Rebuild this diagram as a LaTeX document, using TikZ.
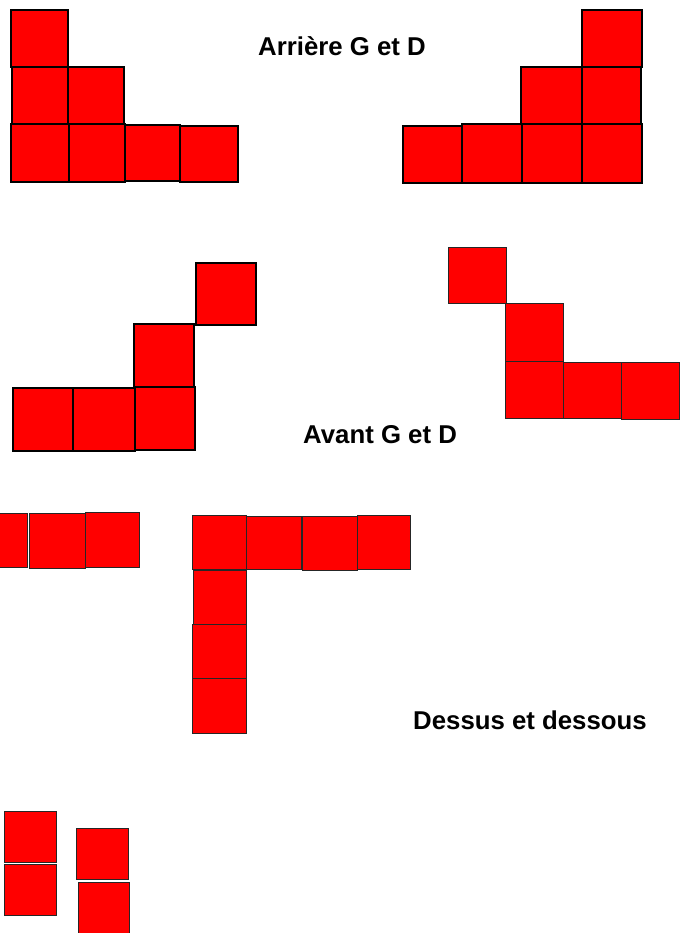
\documentclass[tikz,border=0pt]{standalone}
\usepackage{fontspec}
\setmainfont{Liberation Sans}
\tikzset{
  cell/.style={fill=red, draw=black, line width=1.6pt},
  cellthin/.style={fill=red, draw=black!85, line width=0.8pt},
  title/.style={anchor=base west, inner sep=0pt, font=\fontsize{22}{26}\selectfont\bfseries}
}
\begin{document}
\begin{tikzpicture}[x=0.03cm, y=-0.03cm]
  \useasboundingbox (0,0) rectangle (689,933);
  \clip (0,0) rectangle (689,933);
  % Arriere G
  \draw[cell] (11,10) rectangle (68,67);
  \draw[cell] (12,67) rectangle (68,124);
  \draw[cell] (68,67) rectangle (124,124);
  \draw[cell] (11,124) rectangle (69,182);
  \draw[cell] (69,124) rectangle (125,182);
  \draw[cell] (125,125) rectangle (180,181);
  \draw[cell] (180,126) rectangle (238,182);
  % Arriere D
  \draw[cell] (582,10) rectangle (642,67);
  \draw[cell] (521,67) rectangle (582,124);
  \draw[cell] (582,67) rectangle (641,124);
  \draw[cell] (403,126) rectangle (462,183);
  \draw[cell] (462,124) rectangle (522,183);
  \draw[cell] (522,124) rectangle (582,183);
  \draw[cell] (582,124) rectangle (642,183);
  \node[title] (arriere) at (258,56) {Arrière G et D};
  % Avant G
  \draw[cell] (196,263) rectangle (256,325);
  \draw[cell] (134,324) rectangle (194,387);
  \draw[cell] (13,388) rectangle (73,451);
  \draw[cell] (73,388) rectangle (135,451);
  \draw[cell] (135,387) rectangle (195,450);
  % Avant D
  \draw[cellthin] (448,247) rectangle (506,303);
  \draw[cellthin] (505,303) rectangle (563,361);
  \draw[cellthin] (505,361) rectangle (563,418);
  \draw[cellthin] (563,362) rectangle (621,418);
  \draw[cellthin] (621,362) rectangle (679,419);
  \node[title] (avant) at (303,443) {Avant G et D};
  % Dessus
  \draw[cellthin] (-29,513) rectangle (27,567);
  \draw[cellthin] (29,513) rectangle (85,568);
  \draw[cellthin] (85,512) rectangle (139,567);
  \draw[cellthin] (192,515) rectangle (246,569);
  \draw[cellthin] (246,516) rectangle (301,569);
  \draw[cellthin] (302,516) rectangle (357,570);
  \draw[cellthin] (357,515) rectangle (410,569);
  \draw[cellthin] (193,570) rectangle (246,624);
  \draw[cellthin] (192,624) rectangle (246,678);
  \draw[cellthin] (192,678) rectangle (246,733);
  \node[title] (dessus) at (413,729) {Dessus et dessous};
  % Dessous
  \draw[cellthin] (4,811) rectangle (56,862);
  \draw[cellthin] (4,864) rectangle (56,915);
  \draw[cellthin] (76,828) rectangle (128,879);
  \draw[cellthin] (78,882) rectangle (129,934);
\end{tikzpicture}
\end{document}
